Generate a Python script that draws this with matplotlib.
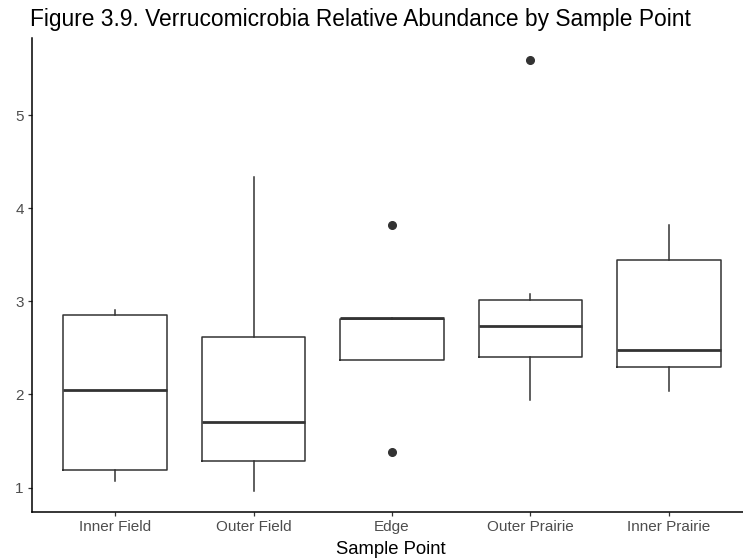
import matplotlib.pyplot as plt

plt.rcParams['font.family'] = ['Liberation Sans', 'DejaVu Sans']

# five-number summaries per sample point, plus outliers
sites = ['Inner Field', 'Outer Field', 'Edge', 'Outer Prairie', 'Inner Prairie']
whislo = [1.065, 0.968, 2.37, 1.94, 2.04]
q1 = [1.19, 1.289, 2.37, 2.40, 2.29]
med = [2.05, 1.706, 2.82, 2.733, 2.48]
q3 = [2.855, 2.614, 2.81, 3.01, 3.45]
whishi = [2.906, 4.34, 2.82, 3.083, 3.82]
fliers = [[], [], [3.82, 1.38], [5.59], []]

stats = []
for i in range(len(sites)):
    stats.append({'label': sites[i], 'whislo': whislo[i], 'q1': q1[i], 'med': med[i],
                  'q3': q3[i], 'whishi': whishi[i], 'fliers': fliers[i]})

fig = plt.figure(figsize=(7.43, 5.58), dpi=100)
ax = fig.add_axes([0.0431, 0.0824, 0.969, 0.8495])

line_c = '#333333'
ax.bxp(stats, positions=range(1, 6), widths=0.75, showcaps=False,
       boxprops=dict(color=line_c, linewidth=1.1),
       whiskerprops=dict(color=line_c, linewidth=1.1),
       medianprops=dict(color=line_c, linewidth=2.0, solid_capstyle='butt'),
       flierprops=dict(marker='o', markerfacecolor=line_c, markeredgecolor=line_c,
                       markersize=5.5))

ax.set_xlim(0.4, 5.6)
ax.set_ylim(0.737, 5.83)
ax.set_yticks([1, 2, 3, 4, 5])
ax.set_xticks(range(1, 6))
ax.set_xticklabels(sites)

for side in ['top', 'right']:
    ax.spines[side].set_visible(False)
for side in ['left', 'bottom']:
    ax.spines[side].set_linewidth(1.1)
    ax.spines[side].set_color('black')

ax.tick_params(axis='both', length=3, width=0.9, color='#333333',
               labelcolor='#4d4d4d', labelsize=11)
ax.tick_params(axis='x', pad=3)
ax.tick_params(axis='y', pad=3)

fig.text(0.04, 0.953, 'Figure 3.9. Verrucomicrobia Relative Abundance by Sample Point',
         fontsize=16.4, ha='left', va='baseline', color='black')
fig.text(0.526, 0.008, 'Sample Point', fontsize=13.3, ha='center', va='baseline',
         color='black')

fig.savefig('out.png', dpi=100)
